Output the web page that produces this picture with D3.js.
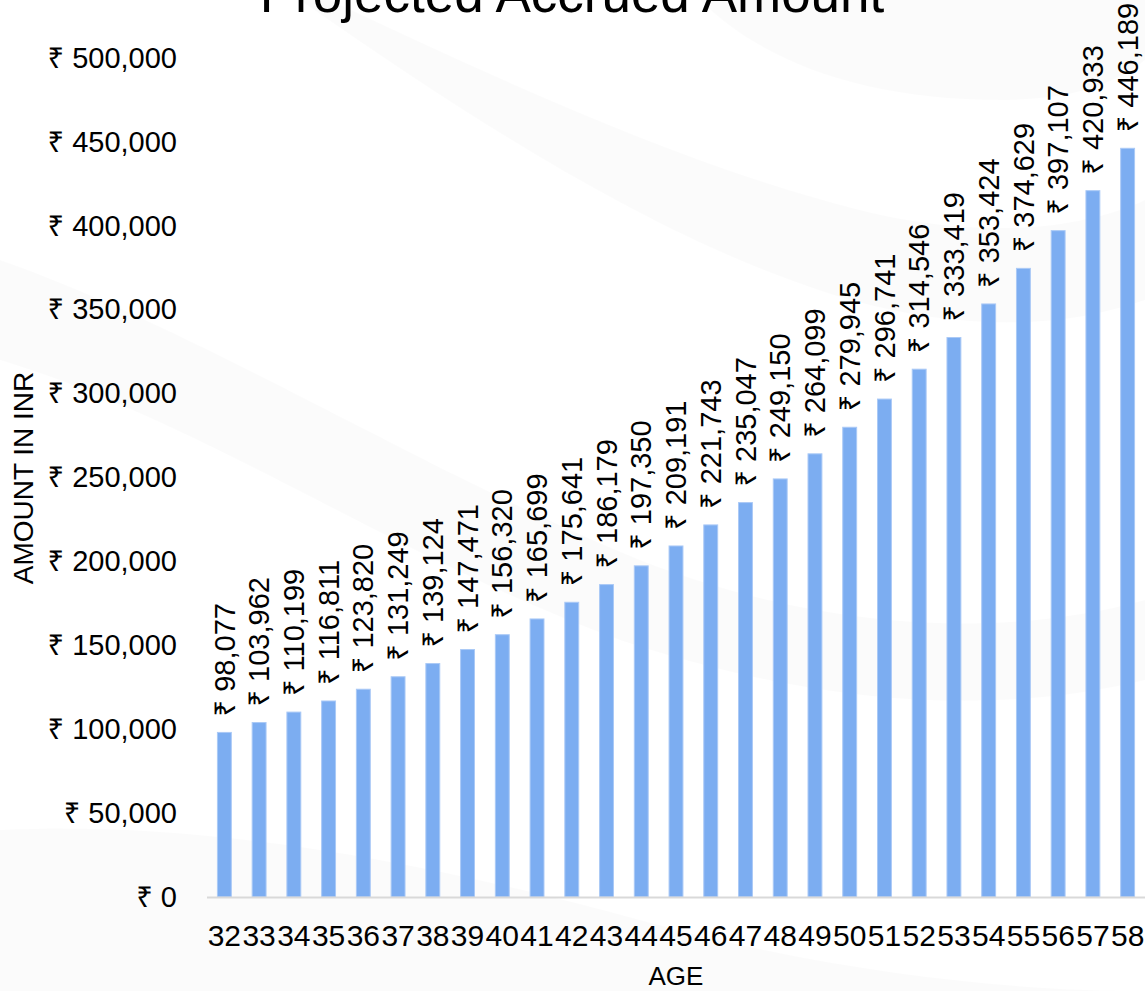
<!DOCTYPE html>
<html>
<head>
<meta charset="utf-8">
<script src="https://cdn.jsdelivr.net/npm/d3@7"></script>
<style>
  html, body { margin: 0; padding: 0; background: #ffffff; }
  svg { display: block; }
  text { font-family: "Liberation Sans", Arial, "Noto Sans", sans-serif; fill: #000; }
</style>
</head>
<body>
<svg id="chart" width="1145" height="991"></svg>
<script>
// Age of the account holder
const ages = [32, 33, 34, 35, 36, 37, 38, 39, 40, 41, 42, 43, 44, 45, 46, 47, 48, 49, 50, 51, 52, 53, 54, 55, 56, 57, 58];
// Projected accrued amount (INR) for each age
const amounts = [98077, 103962, 110199, 116811, 123820, 131249, 139124, 147471, 156320, 165699, 175641, 186179, 197350, 209191, 221743, 235047, 249150, 264099, 279945, 296741, 314546, 333419, 353424, 374629, 397107, 420933, 446189];
// Value axis ticks
const yTicks = [0, 50000, 100000, 150000, 200000, 250000, 300000, 350000, 400000, 450000, 500000];

const titleText = "Projected Accrued Amount";
const xTitle = "AGE";
const yTitle = "AMOUNT IN INR";

const svg = d3.select("#chart");

// soft decorative waves in the background
const bg = svg.append("g");
const waves = [
  "M330,0 C520,90 700,170 860,210 C980,240 1080,230 1145,200 L1145,300 C1060,330 960,330 850,300 C680,250 500,140 300,0 Z",
  "M0,260 C200,330 420,470 640,560 C820,630 1000,640 1145,600 L1145,680 C980,720 800,700 620,640 C400,560 200,420 0,360 Z",
  "M700,0 C760,60 860,100 1000,100 C1080,100 1120,80 1145,60 L1145,0 Z",
  "M0,830 C200,820 420,860 640,920 C820,970 1000,991 1145,991 L0,991 Z"
];
bg.selectAll("path").data(waves).join("path")
  .attr("d", d => d)
  .attr("fill", "#000")
  .attr("fill-opacity", 0.014);

const x = d3.scaleBand()
  .domain(ages)
  .range([207, 1145])
  .paddingInner(0.6)
  .paddingOuter(0.3);

const y = d3.scaleLinear()
  .domain([0, 500000])
  .range([897, 58]);

const fmt = d => "\u20B9 " + d3.format(",")(d);

// title
svg.append("text")
  .attr("x", 572)
  .attr("y", 12)
  .attr("text-anchor", "middle")
  .style("font-size", "53px")
  .text(titleText);

// y axis labels
const yAxis = d3.axisLeft(y).tickValues(yTicks).tickFormat(fmt).tickSize(0).tickPadding(0);
const gy = svg.append("g").attr("transform", "translate(177,0)").call(yAxis);
gy.select(".domain").remove();
gy.selectAll("text")
  .style("font-size", "29px")
  .style("font-family", "'Liberation Sans', Arial, 'Noto Sans', sans-serif")
  .attr("fill", "#000");

// bars
svg.append("g").selectAll("rect")
  .data(ages)
  .join("rect")
  .attr("x", (d) => x(d))
  .attr("width", x.bandwidth())
  .attr("y", (d, i) => y(amounts[i]))
  .attr("height", (d, i) => y(0) - y(amounts[i]))
  .attr("fill", "#7CADF1")
  .attr("stroke", "#aac9f6")
  .attr("stroke-width", 1);

// x axis
const xAxis = d3.axisBottom(x).tickSize(0).tickPadding(0);
const gx = svg.append("g").attr("transform", "translate(0,897)").call(xAxis);
gx.select(".domain").remove();
gx.selectAll("text")
  .attr("y", 49)
  .attr("dy", null)
  .style("font-size", "30px")
  .style("font-family", "'Liberation Sans', Arial, 'Noto Sans', sans-serif")
  .attr("fill", "#000");
svg.append("line")
  .attr("x1", 207).attr("x2", 1145)
  .attr("y1", 897.5).attr("y2", 897.5)
  .attr("stroke", "#d9d9d9")
  .attr("stroke-width", 2);

// value labels above bars
svg.append("g").selectAll("text")
  .data(ages)
  .join("text")
  .attr("transform", (d, i) => `translate(${x(d) + x.bandwidth() / 2},${y(amounts[i]) - 16}) rotate(-90)`)
  .attr("dy", "0.35em")
  .attr("text-anchor", "start")
  .style("font-size", "29px")
  .text((d, i) => fmt(amounts[i]));

// axis titles
svg.append("text")
  .attr("x", 676)
  .attr("y", 985)
  .attr("text-anchor", "middle")
  .style("font-size", "26px")
  .text(xTitle);

svg.append("text")
  .attr("transform", "translate(33,478) rotate(-90)")
  .attr("text-anchor", "middle")
  .style("font-size", "28px")
  .text(yTitle);
</script>
</body>
</html>
